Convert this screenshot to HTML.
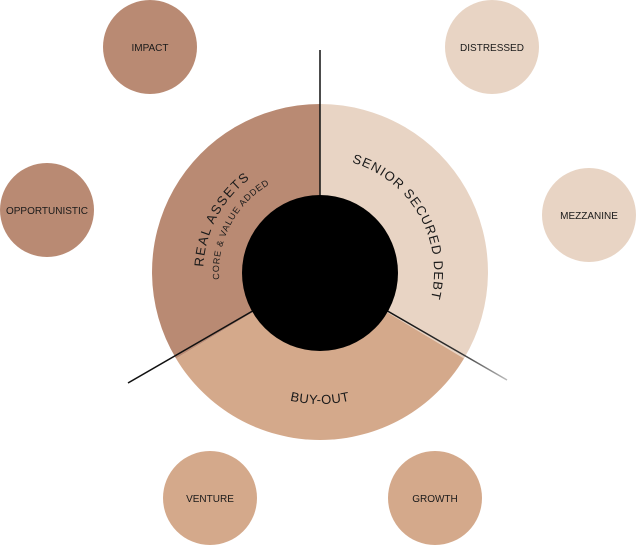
<!DOCTYPE html>
<html><head><meta charset="utf-8"><style>
html,body{margin:0;padding:0;background:#fff;}
svg{display:block;}
text{font-family:"Liberation Sans",sans-serif;fill:#1a1a1a;}
</style></head><body>
<svg width="641" height="547" viewBox="0 0 641 547" xmlns="http://www.w3.org/2000/svg">
<defs>
<linearGradient id="fade" x1="388" y1="314" x2="507" y2="380" gradientUnits="userSpaceOnUse">
<stop offset="0" stop-color="#111"/><stop offset="0.6" stop-color="#333"/><stop offset="1" stop-color="#bbb"/>
</linearGradient>
<path id="pSen" d="M271.8,168.7 A114,114 0 0 1 385.4,365.4"/>
<path id="pReal" d="M270.6,378 A117,117 0 0 1 350.3,159"/>
<path id="pCore" d="M277.3,363.5 A101,101 0 0 1 346.1,174.4"/>
<path id="pBuy" d="M190,294.9 A132,132 0 0 0 450,294.9"/>
</defs>
<circle cx="150" cy="47" r="47" fill="#b98a73"/>
<circle cx="492" cy="47" r="47" fill="#e8d4c4"/>
<circle cx="47" cy="210" r="47" fill="#b98a73"/>
<circle cx="589" cy="215" r="47" fill="#e8d4c4"/>
<circle cx="210" cy="498" r="47" fill="#d4a98b"/>
<circle cx="435" cy="498" r="47" fill="#d4a98b"/>
<g font-size="10" text-anchor="middle">
<text x="150" y="51">IMPACT</text>
<text x="492" y="51">DISTRESSED</text>
<text x="47" y="214">OPPORTUNISTIC</text>
<text x="589" y="219">MEZZANINE</text>
<text x="210" y="502">VENTURE</text>
<text x="435" y="502">GROWTH</text>
</g>
<path d="M320,272 L320,104 A168,168 0 0 1 464,358.5 Z" fill="#e8d4c4"/>
<path d="M320,272 L464,358.5 A168,168 0 0 1 176,358.5 Z" fill="#d4a98b"/>
<path d="M320,272 L176,358.5 A168,168 0 0 1 320,104 Z" fill="#b98a73"/>
<line x1="320" y1="50" x2="320" y2="272" stroke="#111" stroke-width="1.5"/>
<line x1="128" y1="383" x2="320" y2="272" stroke="#111" stroke-width="1.5"/>
<line x1="320" y1="272" x2="507" y2="380" stroke="url(#fade)" stroke-width="1.5"/>
<circle cx="320" cy="273" r="78" fill="#000"/>
<text font-size="13" letter-spacing="1"><textPath href="#pSen" startOffset="50%" text-anchor="middle">SENIOR SECURED DEBT</textPath></text>
<text font-size="13" letter-spacing="1.5"><textPath href="#pReal" startOffset="54.7%" text-anchor="middle">REAL ASSETS</textPath></text>
<text font-size="9" letter-spacing="0.8"><textPath href="#pCore" startOffset="54.7%" text-anchor="middle">CORE &amp; VALUE ADDED</textPath></text>
<text font-size="13" letter-spacing="0.5"><textPath href="#pBuy" startOffset="50%" text-anchor="middle">BUY-OUT</textPath></text>
</svg>
</body></html>
